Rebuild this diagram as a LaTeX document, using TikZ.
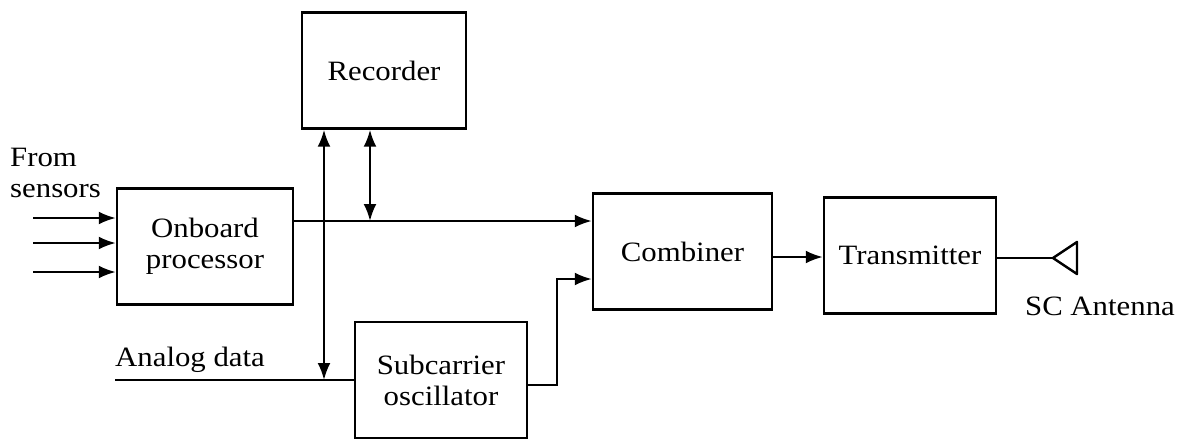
\documentclass[tikz,border=0pt]{standalone}
\usepackage{fontspec}
\setmainfont{Liberation Serif}[FakeStretch=1.1]
\usepackage{tikz}
\usetikzlibrary{arrows.meta,positioning,calc}

\begin{document}
\begin{tikzpicture}[x=1pt,y=-1pt,
  blk/.style={draw,line width=2.4pt,minimum width=#1,minimum height=116pt,inner sep=0pt,align=center},
  lnk/.style={line width=2.4pt},
  arr/.style={lnk,-{Latex[length=17pt,width=13pt]}},
  dbl/.style={lnk,{Latex[length=17pt,width=13pt]}-{Latex[length=17pt,width=13pt]}},
  lbl/.style={inner sep=0pt}]
  \useasboundingbox (0,0) rectangle (1187,439);
  \fontsize{28}{31}\selectfont
  \node[blk=176pt] (proc) at (205,246.5) {Onboard\\processor};
  \node[blk=164pt] (rec) at (384,70.5) {Recorder};
  \node[blk=179pt] (comb) at (682.5,251.5) {Combiner};
  \node[blk=172pt] (xmit) at (910,255.5) {Transmitter};
  \node[blk=172pt] (sco) at (441,380) {Subcarrier\\oscillator};
  % labels
  \node[lbl,align=left,anchor=west] (src) at (10,173) {From\\sensors};
  \node[lbl,anchor=base west] (adl) at (115,366) {Analog data};
  \node[lbl] (antl) at (1100,306) {SC Antenna};
  % sensor inputs
  \foreach \yy/\nm in {218/s1,243/s2,272/s3}{
    \coordinate (\nm) at (33,\yy);
    \draw[arr] (\nm) -- (\nm -| proc.west);
  }
  % data bus to combiner
  \coordinate (j1) at (370,221);
  \draw[arr] (j1 -| proc.east) -- (j1 -| comb.west);
  \draw[dbl] (rec.south -| j1) -- (j1);
  % analog data
  \coordinate (ad) at (115,380);
  \coordinate (j2) at (324,380);
  \draw[lnk] (ad) -- (sco.west);
  \draw[dbl] (rec.south -| j2) -- (j2);
  % oscillator to combiner
  \coordinate (k) at (557,279);
  \draw[arr] ($(sco.east)+(0,5)$) -| (k) -- (k -| comb.west);
  % combiner to transmitter
  \coordinate (c1) at (772,257);
  \draw[arr] (c1) -- (c1 -| xmit.west);
  % antenna
  \coordinate (ant) at (1053,258);
  \draw[lnk] (ant -| xmit.east) -- (ant);
  \draw[lnk,line join=round] (ant) -- ++(24,-16) -- ++(0,32) -- cycle;
\end{tikzpicture}
\end{document}
